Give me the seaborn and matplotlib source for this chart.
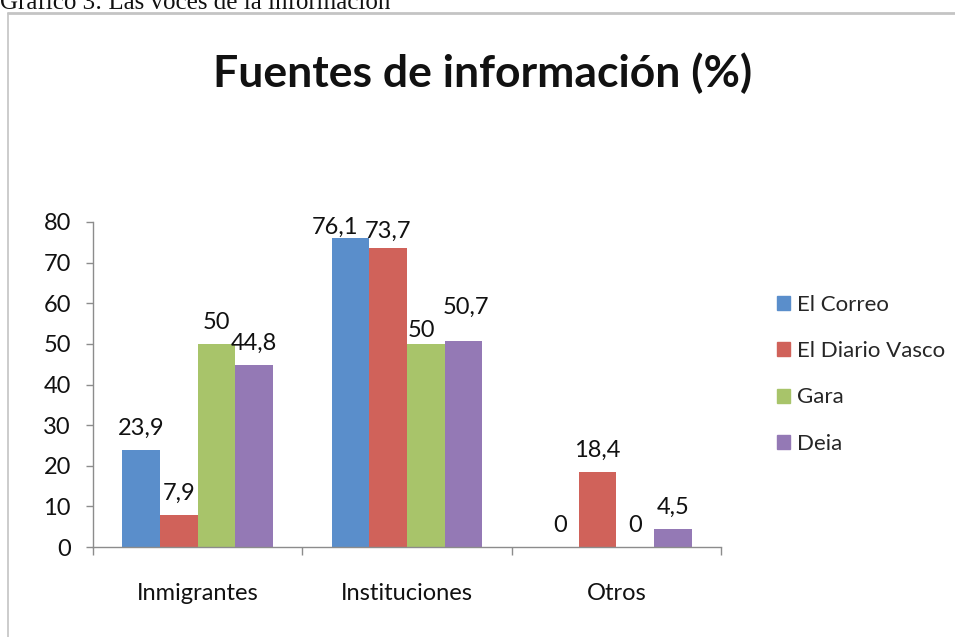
import pandas as pd
import matplotlib.pyplot as plt
import seaborn as sns
from matplotlib.lines import Line2D

# data
categories = ["Inmigrantes", "Instituciones", "Otros"]
newspapers = ["El Correo", "El Diario Vasco", "Gara", "Deia"]
el_correo = [23.9, 76.1, 0]
diario_vasco = [7.9, 73.7, 18.4]
gara = [50, 50, 0]
deia = [44.8, 50.7, 4.5]

colors = ["#5a8ecb", "#d0625a", "#a8c46a", "#9479b5"]

rows = []
for name, vals in zip(newspapers, [el_correo, diario_vasco, gara, deia]):
    for cat, v in zip(categories, vals):
        rows.append({"Categoria": cat, "Periodico": name, "Valor": v})
df = pd.DataFrame(rows)

sns.set_style("white")
plt.rcParams["font.family"] = ["Lato", "DejaVu Sans"]

fig = plt.figure(figsize=(9.55, 6.37), dpi=100)
ax = fig.add_axes([93/955, 1 - 547/637, (721 - 93)/955, (547 - 222)/637])

sns.barplot(data=df, x="Categoria", y="Valor", hue="Periodico", order=categories,
            hue_order=newspapers, palette=colors, width=0.72, saturation=1,
            linewidth=0, ax=ax, legend=True)

label_sets = []
for cont in ax.containers:
    labels = [f"{v:g}".replace(".", ",") for v in cont.datavalues]
    label_sets.append(ax.bar_label(cont, labels=labels, padding=8, fontsize=17,
                                   color="#111111"))

# Excel nudged a few labels in "Instituciones" so they do not collide
label_sets[0][1].xyann = (-11.5, 0)
label_sets[1][1].xyann = (0, 4)
label_sets[2][1].xyann = (-3, 2)
label_sets[3][1].xyann = (2, 17)

ax.set_ylim(0, 80)
ax.set_xlim(-0.5, 2.5)
ax.set_yticks(range(0, 81, 10))
ax.set_xlabel("")
ax.set_ylabel("")
sns.despine(ax=ax)
for s in ["left", "bottom"]:
    ax.spines[s].set_color("#8c8c8c")
    ax.spines[s].set_linewidth(1)

ax.tick_params(axis="y", which="major", direction="out", length=5, width=1,
               color="#8c8c8c", labelsize=17, pad=11, left=True)
ax.tick_params(axis="x", which="major", length=0, labelsize=17, pad=26)
ax.set_xticks([-0.5, 0.5, 1.5, 2.5], minor=True)
ax.tick_params(axis="x", which="minor", direction="out", length=6, width=1,
               color="#8c8c8c", bottom=True)
for lab in ax.get_yticklabels() + ax.get_xticklabels():
    lab.set_color("#111111")

ax.get_legend().remove()
handles = [plt.Rectangle((0, 0), 1, 1, color=c) for c in colors]
fig.legend(handles, newspapers, loc="upper left", bbox_to_anchor=(757/955, 1 - 275/637),
           frameon=False, fontsize=16, handlelength=0.6, handleheight=0.6,
           handletextpad=0.3, labelspacing=1.18)

fig.text(0.5055, 1 - 73/637, "Fuentes de información (%)", ha="center", va="center",
         fontsize=32, fontweight="bold", color="#111111")

# caption cut off at the top of the screenshot
fig.text(0.0, 1 - 9/637, "Gráfico 3: Las voces de la información", ha="left",
         va="baseline", fontsize=18, family="Liberation Serif", color="#111111")

# chart frame
fig.add_artist(Line2D([8/955, 1], [1 - 12.5/637, 1 - 12.5/637], transform=fig.transFigure,
                      color="#c4c4c4", linewidth=2))
fig.add_artist(Line2D([8/955, 8/955], [0, 1 - 12.5/637], transform=fig.transFigure,
                      color="#c4c4c4", linewidth=1.2))

fig.savefig("out.png", dpi=100)
